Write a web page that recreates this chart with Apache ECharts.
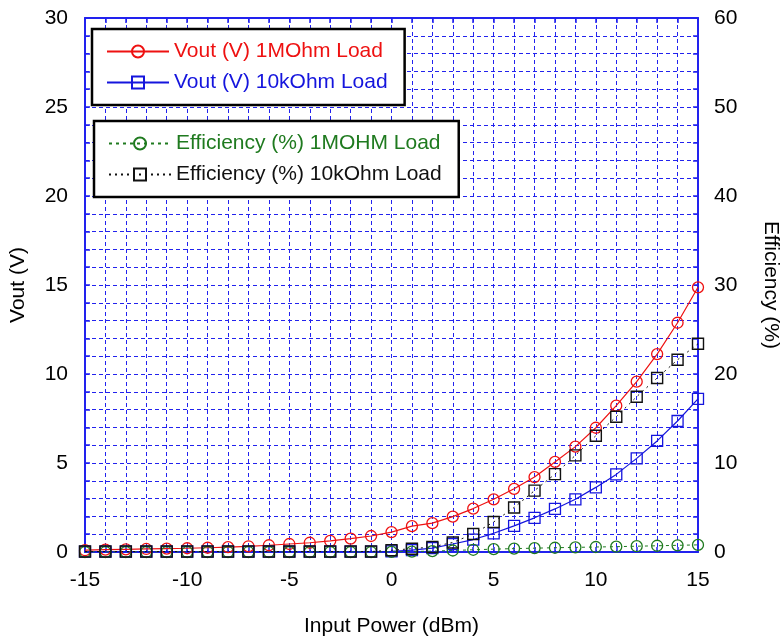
<!DOCTYPE html>
<html><head><meta charset="utf-8">
<script src="https://cdn.jsdelivr.net/npm/echarts@6/dist/echarts.min.js"></script>
<style>html,body{margin:0;padding:0;background:#fff}#c{width:782px;height:636px}</style>
</head><body><div id="c"></div>
<script>
const inputPower = [-15,-14,-13,-12,-11,-10,-9,-8,-7,-6,-5,-4,-3,-2,-1,0,1,2,3,4,5,6,7,8,9,10,11,12,13,14,15];
const vout1M = [0.10,0.13,0.15,0.17,0.19,0.21,0.24,0.27,0.32,0.38,0.45,0.52,0.62,0.75,0.90,1.12,1.45,1.62,1.99,2.44,2.96,3.55,4.21,5.06,5.92,6.98,8.22,9.57,11.12,12.88,14.87];
const vout10k = [0.02,0.02,0.02,0.02,0.02,0.02,0.02,0.02,0.02,0.02,0.02,0.02,0.02,0.02,0.02,0.03,0.10,0.22,0.45,0.70,1.05,1.47,1.92,2.42,2.96,3.63,4.36,5.26,6.24,7.36,8.60];
const eff1M = [0.0,0.0,0.0,0.0,0.0,0.0,0.0,0.0,0.0,0.0,0.0,0.0,0.0,0.0,0.0,0.02,0.05,0.10,0.17,0.25,0.32,0.38,0.43,0.48,0.52,0.56,0.60,0.65,0.70,0.75,0.80];
const eff10k = [0.05,0.05,0.05,0.05,0.05,0.05,0.05,0.05,0.05,0.05,0.05,0.05,0.05,0.05,0.05,0.20,0.37,0.57,1.07,2.02,3.37,5.00,6.90,8.75,10.86,13.07,15.20,17.45,19.55,21.60,23.40];
const names = ['Vout (V) 1MOhm Load','Vout (V) 10kOhm Load','Efficiency (%) 1MOHM Load','Efficiency (%) 10kOhm Load'];

const pairs = arr => inputPower.map((x,i)=>[x,arr[i]]);
const FONT = 'Liberation Sans';
const RED='#ee1111', BLUE='#1515dd', GREEN='#1f7a1f', BLACK='#111111', GRID='#2222ee';

const gridLine = {show:true, lineStyle:{color:GRID, width:1, type:[4,3]}};
function axisBase(extra){
  return Object.assign({
    axisLine:{show:true, onZero:false, lineStyle:{color:GRID, width:2}},
    axisTick:{show:true, inside:true, length:5, lineStyle:{color:GRID, width:1.5}},
    minorTick:{show:true, splitNumber:5, length:5, lineStyle:{color:GRID, width:1.5}},
    axisLabel:{color:'#000', fontSize:21, fontFamily:FONT},
    nameTextStyle:{color:'#000', fontSize:21, fontFamily:FONT}
  }, extra);
}

const chart = echarts.init(document.getElementById('c'));
chart.setOption({
  animation:false,
  backgroundColor:'#fff',
  grid:{left:85, right:84, top:18, bottom:84, containLabel:false, outerBoundsMode:'none'},
  xAxis:[
    axisBase({type:'value', min:-15, max:15, interval:5, position:'bottom',
      name:'Input Power (dBm)', nameLocation:'middle', nameGap:64,
      axisLabel:{color:'#000', fontSize:21, fontFamily:FONT, margin:18},
      splitLine:gridLine, minorSplitLine:gridLine}),
    axisBase({type:'value', min:-15, max:15, interval:5, position:'top',
      axisLabel:{show:false}, splitLine:{show:false}})
  ],
  yAxis:[
    axisBase({type:'value', min:0, max:30, interval:5, position:'left',
      name:'Vout (V)', nameLocation:'middle', nameGap:56,
      axisLabel:{color:'#000', fontSize:21, fontFamily:FONT, margin:17},
      splitLine:gridLine, minorSplitLine:gridLine}),
    axisBase({type:'value', min:0, max:60, interval:10, position:'right',
      name:'Efficiency (%)', nameLocation:'middle', nameGap:62, nameRotate:-90,
      axisLabel:{color:'#000', fontSize:21, fontFamily:FONT, margin:16},
      splitLine:{show:false}})
  ],
  legend:[
    {left:92, top:29, orient:'vertical', selectedMode:false, backgroundColor:'#fff',
     borderColor:'#000', borderWidth:2.5, padding:[12,17,12,14],
     itemWidth:62, itemHeight:15, itemGap:10,
     textStyle:{fontSize:21, fontFamily:FONT, lineHeight:20},
     data:[{name:names[0], textStyle:{color:RED}},{name:names[1], textStyle:{color:BLUE}}]},
    {left:94, top:121, orient:'vertical', selectedMode:false, backgroundColor:'#fff',
     borderColor:'#000', borderWidth:2.5, padding:[12,17,12,14],
     itemWidth:62, itemHeight:15, itemGap:10,
     textStyle:{fontSize:21, fontFamily:FONT, lineHeight:20},
     data:[{name:names[2], textStyle:{color:GREEN}},{name:names[3], textStyle:{color:BLACK}}]}
  ],
  series:[
    {name:names[0], type:'line', xAxisIndex:0, yAxisIndex:0, data:pairs(vout1M),
     symbol:'circle', symbolSize:11, lineStyle:{color:RED, width:1.2},
     itemStyle:{color:'rgba(0,0,0,0)', borderColor:RED, borderWidth:1.3}},
    {name:names[1], type:'line', xAxisIndex:0, yAxisIndex:0, data:pairs(vout10k),
     symbol:'rect', symbolSize:11, lineStyle:{color:BLUE, width:1.2},
     itemStyle:{color:'rgba(0,0,0,0)', borderColor:BLUE, borderWidth:1.3}},
    {name:names[2], type:'line', xAxisIndex:0, yAxisIndex:1, data:pairs(eff1M),
     symbol:'circle', symbolSize:11, lineStyle:{color:GREEN, width:1, type:[3,4]},
     itemStyle:{color:'rgba(0,0,0,0)', borderColor:GREEN, borderWidth:1.3}},
    {name:names[3], type:'line', xAxisIndex:0, yAxisIndex:1, data:pairs(eff10k),
     symbol:'rect', symbolSize:11, lineStyle:{color:BLACK, width:1, type:[2,4]},
     itemStyle:{color:'rgba(0,0,0,0)', borderColor:BLACK, borderWidth:1.4}}
  ]
});
</script></body></html>
